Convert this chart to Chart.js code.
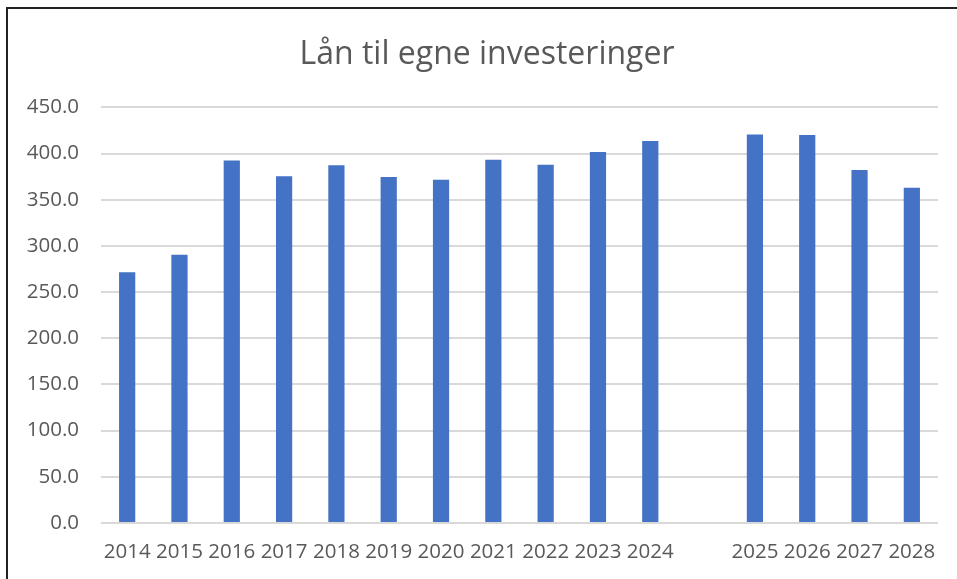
<!DOCTYPE html>
<html>
<head>
<meta charset="utf-8">
<script src="https://cdn.jsdelivr.net/npm/chart.js@4/dist/chart.umd.min.js"></script>
<style>
  html, body { margin: 0; padding: 0; background: #fff; }
  #frame {
    position: absolute; left: 6px; top: 7px; right: 0; bottom: 0;
    border-left: 2px solid #222; border-top: 2px solid #222;
  }
  #wrap { position: absolute; left: 0; top: 0; width: 957px; height: 579px; }
</style>
</head>
<body>
<div id="frame"></div>
<div id="wrap"><canvas id="chart" width="957" height="579"></canvas></div>
<script>
// years, with an empty slot between actuals and the plan years
var years = ["2014", "2015", "2016", "2017", "2018", "2019", "2020", "2021", "2022", "2023", "2024", "", "2025", "2026", "2027", "2028"];
var laan = [271.4, 290.5, 392.4, 375.4, 387.4, 374.6, 371.7, 393.2, 388.0, 401.8, 413.5, null, 420.6, 420.0, 382.3, 363.0];
var chartTitle = "Lån til egne investeringer";
var yMax = 450;
var yStep = 50;

var textColor = "#595959";
var font = "'Open Sans', sans-serif";

// nudge the title box so it is centred like in the original
var titleShift = {
  id: "titleShift",
  afterLayout: function (chart) {
    if (chart.titleBlock) chart.titleBlock.left = 36;
  }
};

var chart = new Chart("chart", {
  type: "bar",
  plugins: [titleShift],
  data: {
    labels: years,
    datasets: [{
      label: chartTitle,
      data: laan,
      backgroundColor: "#4472C4",
      barPercentage: 0.62,
      categoryPercentage: 0.5
    }]
  },
  options: {
    responsive: false,
    animation: false,
    layout: { padding: { left: 0, right: 19, top: 0, bottom: 0 } },
    plugins: {
      legend: { display: false },
      tooltip: { enabled: false },
      title: {
        display: true,
        text: chartTitle,
        color: textColor,
        font: { family: font, size: 32, weight: "normal" },
        padding: { top: 36, bottom: 33 }
      }
    },
    scales: {
      x: {
        grid: { display: false, drawTicks: false },
        border: { display: false },
        ticks: {
          color: textColor,
          font: { family: font, size: 20.5 },
          padding: 17,
          maxRotation: 0,
          autoSkip: false
        },
        afterFit: function (scale) { scale.height = 56; }
      },
      y: {
        min: 0,
        max: yMax,
        grid: { color: "#D9D9D9", lineWidth: 2, drawTicks: false },
        border: { display: false },
        ticks: {
          stepSize: yStep,
          color: textColor,
          font: { family: font, size: 20.5 },
          padding: 22,
          callback: function (v) { return v.toFixed(1); }
        },
        afterFit: function (scale) { scale.width = 101; }
      }
    }
  }
});
</script>
</body>
</html>
